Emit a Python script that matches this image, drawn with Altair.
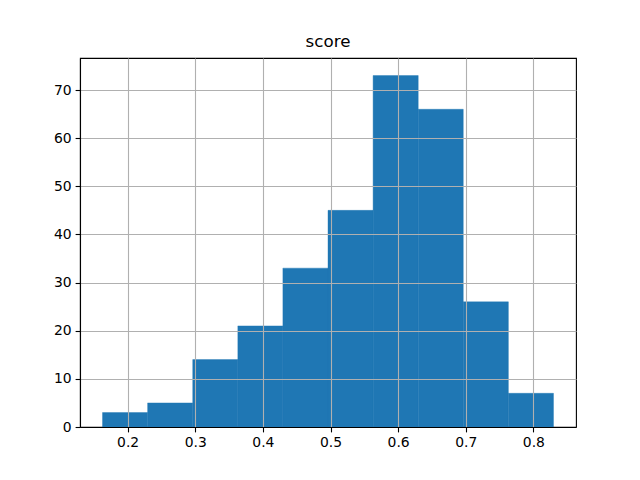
import altair as alt
import pandas as pd

bin_left = [0.1629, 0.2296, 0.2963, 0.3630, 0.4296, 0.4963, 0.5630, 0.6297, 0.6963, 0.7630]
bin_right = [0.2296, 0.2963, 0.3630, 0.4296, 0.4963, 0.5630, 0.6297, 0.6963, 0.7630, 0.8297]
counts = [3, 5, 14, 21, 33, 45, 73, 66, 26, 7]

x_ticks = [0.2, 0.3, 0.4, 0.5, 0.6, 0.7, 0.8]
y_ticks = [0, 10, 20, 30, 40, 50, 60, 70]

df = pd.DataFrame({"left": bin_left, "right": bin_right, "count": counts,
                   "base": [0] * len(counts)})

axis_common = dict(
    grid=True,
    gridColor="#b0b0b0",
    gridWidth=1.1,
    domain=True,
    domainColor="black",
    domainWidth=1.1,
    tickColor="black",
    tickWidth=1.1,
    tickSize=4.9,
    labelFont="DejaVu Sans",
    labelFontSize=13.9,
    labelColor="black",
    labelPadding=4,
    title=None,
    zindex=1,
)

chart = (
    alt.Chart(df)
    .mark_bar(color="#1f77b4", stroke="#1f77b4", strokeWidth=0.4)
    .encode(
        x=alt.X(
            "left:Q",
            scale=alt.Scale(domain=[0.1296, 0.8630], nice=False, zero=False, padding=0),
            axis=alt.Axis(values=x_ticks, format=".1f", **axis_common),
        ),
        x2="right:Q",
        y=alt.Y(
            "count:Q",
            scale=alt.Scale(domain=[0, 76.65], nice=False, padding=0),
            axis=alt.Axis(values=y_ticks, format="d", **axis_common),
        ),
        y2="base:Q",
    )
    .properties(
        width=496,
        height=369,
        title=alt.TitleParams(
            "score", font="DejaVu Sans", fontSize=16.7, fontWeight="normal",
            color="black", offset=7, anchor="middle",
        ),
        autosize=alt.AutoSizeParams(type="none"),
        padding={"left": 72, "top": 50, "right": 56, "bottom": 45},
        background="white",
    )
    .configure_view(stroke="black", strokeWidth=1.1, strokeOpacity=1)
)

chart.save("out.html", embed_options={"renderer": "svg", "actions": False})
